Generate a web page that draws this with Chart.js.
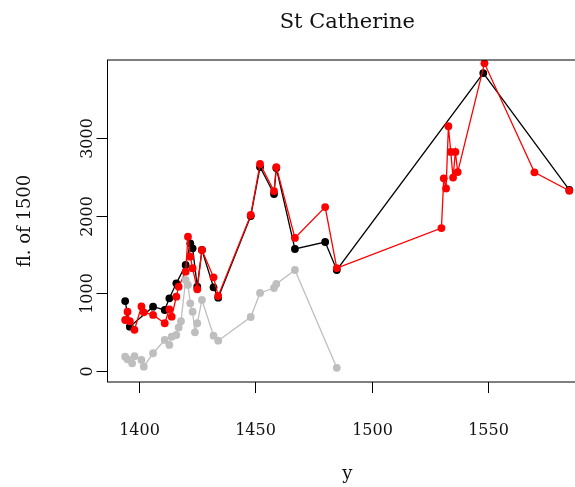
<!DOCTYPE html>
<html>
<head>
<meta charset="utf-8">
<script src="https://cdn.jsdelivr.net/npm/chart.js@4"></script>
<style>
  html, body { margin: 0; padding: 0; background: #fff; overflow: hidden; }
  canvas { display: block; }
</style>
</head>
<body>
<canvas id="chart" width="620" height="487"></canvas>
<script>
// black series
const blackYears = [1394, 1396, 1406, 1411, 1413, 1416, 1420, 1422, 1423, 1425, 1427, 1432, 1434, 1448, 1452, 1458, 1459, 1467, 1480, 1485, 1548, 1585];
const blackValues = [900, 570, 828, 785, 935, 1128, 1364, 1643, 1579, 1085, 1557, 1077, 943, 1995, 2625, 2278, 2613, 1570, 1660, 1300, 3835, 2330];

// red series
const redYears = [1394, 1395, 1396, 1398, 1401, 1402, 1406, 1411, 1413, 1414, 1416, 1417, 1420, 1421, 1422, 1423, 1425, 1427, 1432, 1434, 1448, 1452, 1458, 1459, 1467, 1480, 1485, 1530, 1531, 1532, 1533, 1534, 1535, 1536, 1537, 1548.5, 1570, 1585];
const redValues = [656, 763, 640, 530, 830, 755, 721, 614, 794, 699, 956, 1085, 1278, 1728, 1471, 1322, 1051, 1557, 1206, 965, 2008, 2664, 2316, 2625, 1712, 2110, 1325, 1840, 2480, 2350, 3150, 2820, 2490, 2820, 2560, 3960, 2557, 2320];

// grey series
const greyYears = [1394, 1395, 1397, 1398, 1401, 1402, 1406, 1411, 1413, 1414, 1416, 1417, 1418, 1420, 1421, 1422, 1423, 1424, 1425, 1427, 1432, 1434, 1448, 1452, 1458, 1459, 1467, 1485];
const greyValues = [184, 150, 99, 190, 142, 55, 228, 399, 335, 441, 463, 560, 640, 1171, 1107, 871, 763, 498, 614, 914, 454, 390, 695, 1004, 1068, 1120, 1300, 40];

const xTicks = [1400, 1450, 1500, 1550];
const yTicks = [0, 1000, 2000, 3000];

const FONT = "'DejaVu Serif', 'Liberation Serif', serif";

function toPoints(xs, ys) {
  return xs.map((x, i) => ({ x: x, y: ys[i] }));
}

function series(label, xs, ys, color) {
  return {
    label: label,
    data: toPoints(xs, ys),
    borderColor: color,
    backgroundColor: color,
    borderWidth: 1.3,
    pointRadius: 3.9,
    pointBorderWidth: 0,
    pointHoverRadius: 3.9,
    showLine: true,
    tension: 0
  };
}

// R-style frame, ticks, labels and titles
const baseAxes = {
  id: "baseAxes",
  afterDraw(chart) {
    const ctx = chart.ctx;
    const area = chart.chartArea;
    const xs = chart.scales.x;
    const ys = chart.scales.y;
    ctx.save();
    ctx.strokeStyle = "#000";
    ctx.lineWidth = 1;
    ctx.strokeRect(area.left, area.top, area.right - area.left, area.bottom - area.top);

    ctx.fillStyle = "#111";
    ctx.font = "16px " + FONT;
    ctx.textAlign = "center";
    ctx.textBaseline = "middle";
    xTicks.forEach(v => {
      const px = Math.round(xs.getPixelForValue(v)) + 0.5;
      ctx.beginPath();
      ctx.moveTo(px, area.bottom);
      ctx.lineTo(px, area.bottom + 11);
      ctx.stroke();
      ctx.fillText(String(v), px, 431);
    });

    yTicks.forEach(v => {
      const py = Math.round(ys.getPixelForValue(v)) + 0.5;
      ctx.beginPath();
      ctx.moveTo(area.left, py);
      ctx.lineTo(area.left - 11, py);
      ctx.stroke();
      ctx.save();
      ctx.translate(88, py);
      ctx.rotate(-Math.PI / 2);
      ctx.fillText(String(v), 0, 0);
      ctx.restore();
    });

    ctx.font = "21px " + FONT;
    ctx.fillText("St Catherine", (area.left + area.right) / 2, 23);

    ctx.font = "18px " + FONT;
    ctx.fillText("y", (area.left + area.right) / 2, 474);
    ctx.save();
    ctx.translate(25, (area.top + area.bottom) / 2);
    ctx.rotate(-Math.PI / 2);
    ctx.fillText("fl. of 1500", 0, 0);
    ctx.restore();
    ctx.restore();
  }
};

new Chart(document.getElementById("chart").getContext("2d"), {
  type: "scatter",
  data: {
    datasets: [
      series("grey", greyYears, greyValues, "#bebebe"),
      series("red", redYears, redValues, "#ff0000"),
      series("black", blackYears, blackValues, "#000000")
    ]
  },
  options: {
    responsive: false,
    animation: false,
    layout: { padding: { left: 107.5, top: 60, right: 33, bottom: 105 } },
    scales: {
      x: { type: "linear", min: 1386.4, max: 1592.6, display: false },
      y: { type: "linear", min: -142, max: 4003, display: false }
    },
    plugins: {
      legend: { display: false },
      tooltip: { enabled: false }
    }
  },
  plugins: [baseAxes]
});
</script>
</body>
</html>
